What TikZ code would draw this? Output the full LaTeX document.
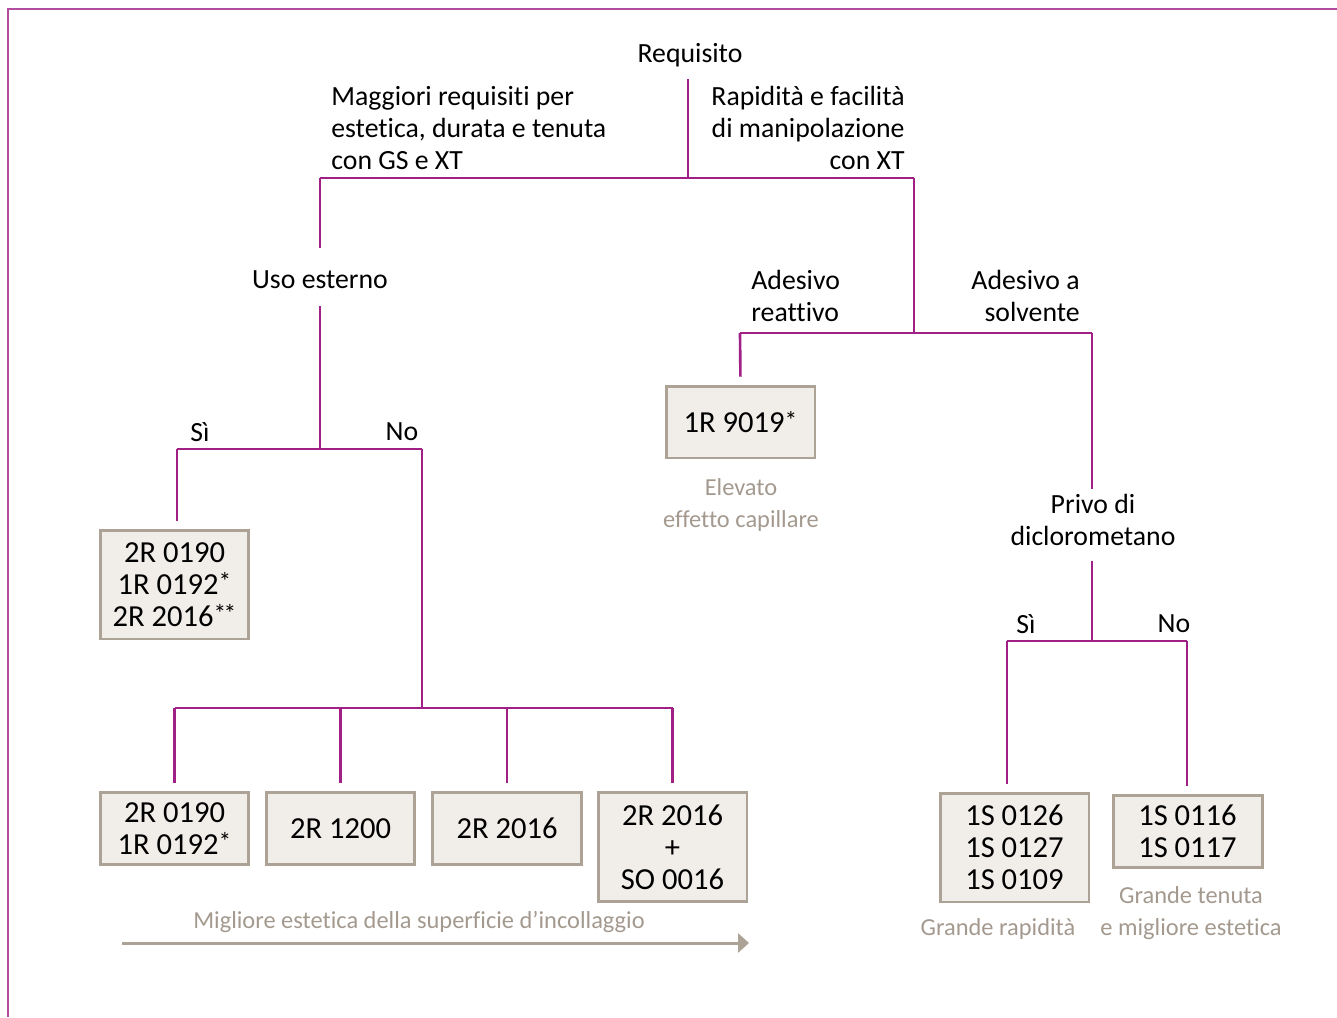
\documentclass[tikz,border=0pt]{standalone}
\usepackage{fontspec}
\setmainfont{Carlito}[Ligatures=NoCommon]
\usetikzlibrary{arrows.meta}
\definecolor{treepurple}{RGB}{160,32,134}
\definecolor{framepurple}{RGB}{178,76,160}
\definecolor{boxgray}{RGB}{172,162,150}
\definecolor{boxfill}{RGB}{241,238,233}
\definecolor{notegray}{RGB}{163,153,142}
\newcommand{\stella}{\raisebox{2.2pt}{\fontsize{14.5}{14.5}\selectfont*}}
\tikzset{
  tree-line/.style={
    draw=treepurple,
    line width=1.5pt
  },
  frame-line/.style={
    draw=framepurple,
    line width=1.1pt
  },
  tree-label/.style={
    font=\fontsize{15.8}{18.15}\selectfont,
    inner sep=0pt
  },
  note-text/.style={
    inner sep=0pt,
    font=\fontsize{13.9}{18.15}\selectfont,
    text=notegray,
    align=center
  },
  prod-box/.style={
    draw=boxgray,
    fill=boxfill,
    line width=1.7pt,
    font=\fontsize{17.4}{18.15}\selectfont,
    align=center,
    minimum width=2.98cm,
    minimum height=1.44cm,
    inner sep=0pt
  },
  drop/.style={tree-line, shorten >=0.16cm}
}

\begin{document}
\begin{tikzpicture}[x=0.02cm, y=-0.02cm]
  \useasboundingbox (0,0) rectangle (1337,1017);
  \draw[frame-line] (8,1017) -- (8,9) -- (1337,9);

  % Requisito
  \node[tree-label] (req) at (690,55) {Requisito};
  \node[tree-label, anchor=west, align=left] (lbl-gs) at (331,128)
    {Maggiori requisiti per\\estetica, durata e tenuta\\con GS e XT};
  \node[tree-label, anchor=east, align=right] (lbl-xt) at (905,128)
    {Rapidità e facilità\\di manipolazione\\con XT};
  \coordinate (j-top) at (688,178);
  \coordinate (j-left) at (320,178);
  \coordinate (j-right) at (914,178);
  \draw[tree-line] ([yshift=-0.24cm]req.south -| j-top) -- (j-top);
  \draw[tree-line] (j-left) -- (j-right);

  % Uso esterno
  \node[tree-label] (uso) at (320,280) {Uso esterno};
  \draw[tree-line] (j-left) -- ([yshift=0.46cm]uso.north -| j-left);
  \coordinate (j-uso) at (320,449);
  \coordinate (j-si) at (177,449);
  \coordinate (j-no) at (422,449);
  \draw[tree-line] ([yshift=-0.34cm]uso.south) -- (j-uso);
  \draw[tree-line] (j-si) -- (j-no);
  \node[tree-label] (lbl-si) at (200,432) {Sì};
  \node[tree-label] (lbl-no) at (402,432) {No};

  \node[prod-box, minimum height=2.18cm] (box-ext) at (174.5,584.5)
    {2R 0190\\1R 0192\stella\\2R 2016\stella\kern-1.5pt\stella};
  \draw[drop] (j-si) -- (j-si |- box-ext.north);

  % prodotti in basso
  \node[prod-box] (box-a) at (174.5,828.5) {2R 0190\\1R 0192\stella};
  \node[prod-box] (box-b) at (340.5,828.5) {2R 1200};
  \node[prod-box] (box-c) at (507,828.5) {2R 2016};
  \node[prod-box, minimum height=2.18cm] (box-d) at (672.5,847) {2R 2016\\+\\SO 0016};
  \coordinate (j-bot) at (422,708);
  \draw[tree-line] (j-no) -- (j-bot);
  \draw[tree-line] (box-a.north |- j-bot) -- (box-d.north |- j-bot);
  \foreach \b in {box-a,box-b,box-c,box-d}
    \draw[drop] (\b.north |- j-bot) -- (\b.north);

  \node[note-text] (lbl-arrow) at (419,922)
    {Migliore estetica della superficie d’incollaggio};
  \coordinate (arr-start) at (122,943);
  \coordinate (arr-end) at (749,943);
  \draw[draw=boxgray, line width=1.7pt, -{Triangle[length=0.22cm, width=0.38cm]}]
    (arr-start) -- (arr-end);

  % ramo destro
  \coordinate (j-mid) at (914,333);
  \coordinate (j-reat) at (740,333);
  \coordinate (j-solv) at (1092,333);
  \draw[tree-line] (j-right) -- (j-mid);
  \draw[tree-line] (j-reat) -- (j-solv);
  \node[tree-label, anchor=west, align=left] (lbl-reat) at (751,296)
    {Adesivo\\reattivo};
  \node[tree-label, anchor=east, align=right] (lbl-solv) at (1080,296)
    {Adesivo a\\solvente};

  \node[prod-box] (box-9019) at (740.5,422) {1R 9019\stella};
  \draw[drop] (j-reat) -- (box-9019.north);
  \node[note-text] (note-cap) at (741,505) {Elevato\\effetto capillare};

  \node[tree-label, align=center] (privo) at (1093,520) {Privo di\\diclorometano};
  \draw[tree-line] (j-solv) -- ([yshift=0.1cm]privo.north -| j-solv);
  \coordinate (j-privo) at (1092,641);
  \coordinate (j-si2) at (1007,641);
  \coordinate (j-no2) at (1187,641);
  \draw[tree-line] ([yshift=-0.3cm]privo.south -| j-privo) -- (j-privo);
  \draw[tree-line] (j-si2) -- (j-no2);
  \node[tree-label] (lbl-si2) at (1026,624) {Sì};
  \node[tree-label] (lbl-no2) at (1174,624) {No};

  \node[prod-box, minimum height=2.18cm] (box-s3) at (1014.5,847.5)
    {1S 0126\\1S 0127\\1S 0109};
  \node[prod-box] (box-s2) at (1187.5,831) {1S 0116\\1S 0117};
  \draw[drop] (j-si2) -- (j-si2 |- box-s3.north);
  \draw[drop] (j-no2) -- (j-no2 |- box-s2.north);

  \node[note-text] (note-rap) at (998,929) {Grande rapidità};
  \node[note-text] (note-ten) at (1191,913) {Grande tenuta\\e migliore estetica};
\end{tikzpicture}
\end{document}
